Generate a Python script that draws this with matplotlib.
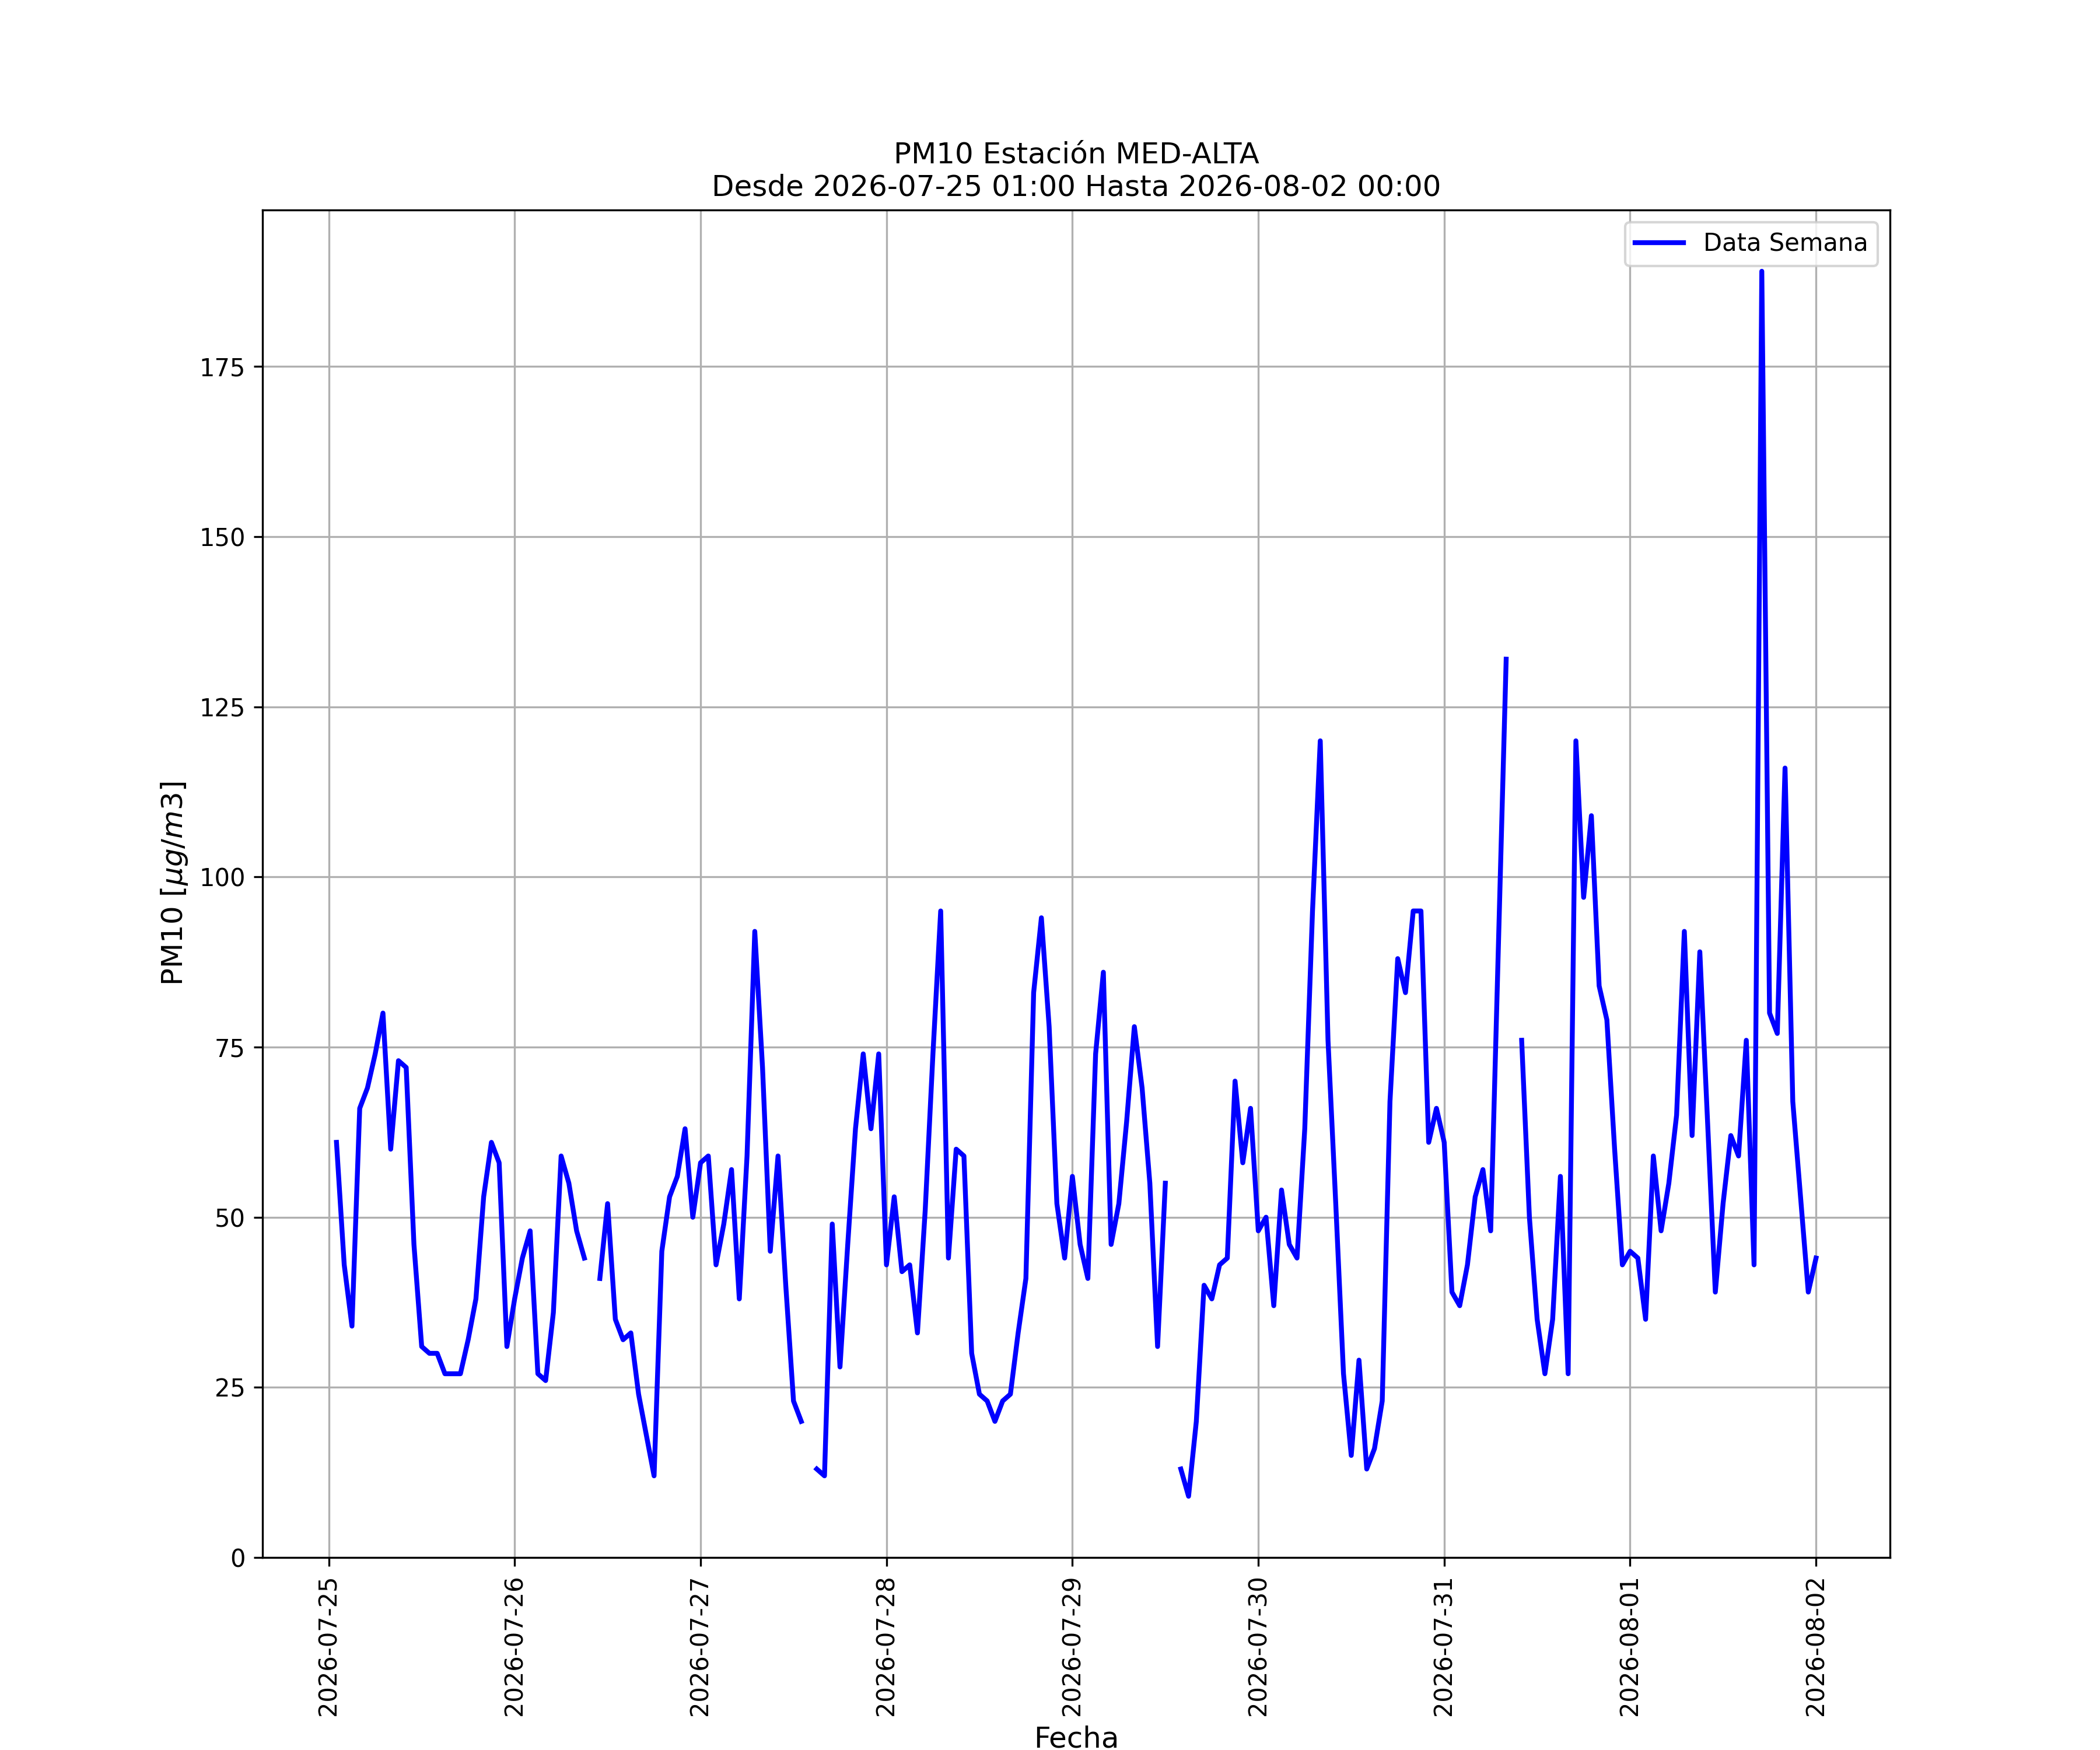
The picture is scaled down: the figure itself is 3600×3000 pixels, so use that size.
import numpy as np
import pandas as pd
import matplotlib
matplotlib.use('Agg')
import matplotlib.pyplot as plt
import matplotlib.dates as mdates

nan = np.nan

# PM10 hourly values, 2026-07-25 01:00 .. 2026-08-02 00:00
d0725 = [61, 43, 34, 66, 69, 74, 80, 60, 73, 72, 46, 31, 30, 30, 27, 27, 27, 32, 38, 53, 61, 58, 31]
d0726 = [38, 44, 48, 27, 26, 36, 59, 55, 48, 44, nan, 41, 52, 35, 32, 33, 24, 18, 12, 45, 53, 56, 63, 50]
d0727 = [58, 59, 43, 49, 57, 38, 59, 92, 72, 45, 59, 40, 23, 20, nan, 13, 12, 49, 28, 46, 63, 74, 63, 74]
d0728 = [43, 53, 42, 43, 33, 51, 74, 95, 44, 60, 59, 30, 24, 23, 20, 23, 24, 33, 41, 83, 94, 78, 52, 44]
d0729 = [56, 46, 41, 74, 86, 46, 52, 64, 78, 69, 55, 31, 55, nan, 13, 9, 20, 40, 38, 43, 44, 70, 58, 66]
d0730 = [48, 50, 37, 54, 46, 44, 63, 95, 120, 76, 52, 27, 15, 29, 13, 16, 23, 67, 88, 83, 95, 95, 61, 66]
d0731 = [61, 39, 37, 43, 53, 57, 48, 90, 132, nan, 76, 50, 35, 27, 35, 56, 27, 120, 97, 109, 84, 79, 60, 43]
d0801 = [45, 44, 35, 59, 48, 55, 65, 92, 62, 89, 64, 39, 52, 62, 59, 76, 43, 189, 80, 77, 116, 67, 53, 39]
d0802 = [44]

pm10 = d0725 + d0726 + d0727 + d0728 + d0729 + d0730 + d0731 + d0801 + d0802
fechas = pd.date_range('2026-07-25 01:00', '2026-08-02 00:00', freq='h')
data = pd.DataFrame({'fecha': fechas, 'pm10': pm10})

fig, ax = plt.subplots(figsize=(12, 10))
ax.plot(data['fecha'], data['pm10'], color='b', linewidth=2, label='Data Semana')
ax.set_title('PM10 Estación MED-ALTA\nDesde 2026-07-25 01:00 Hasta 2026-08-02 00:00')
ax.set_xlabel('Fecha', fontsize=12)
ax.set_ylabel(r'PM10 [$\mu g/m3$]', fontsize=12)
ax.xaxis.set_major_locator(mdates.DayLocator())
ax.xaxis.set_major_formatter(mdates.DateFormatter('%Y-%m-%d'))
plt.xticks(rotation=90)
ax.grid(True)
ax.legend(loc='upper right')
fig.savefig('out.png', dpi=300)
